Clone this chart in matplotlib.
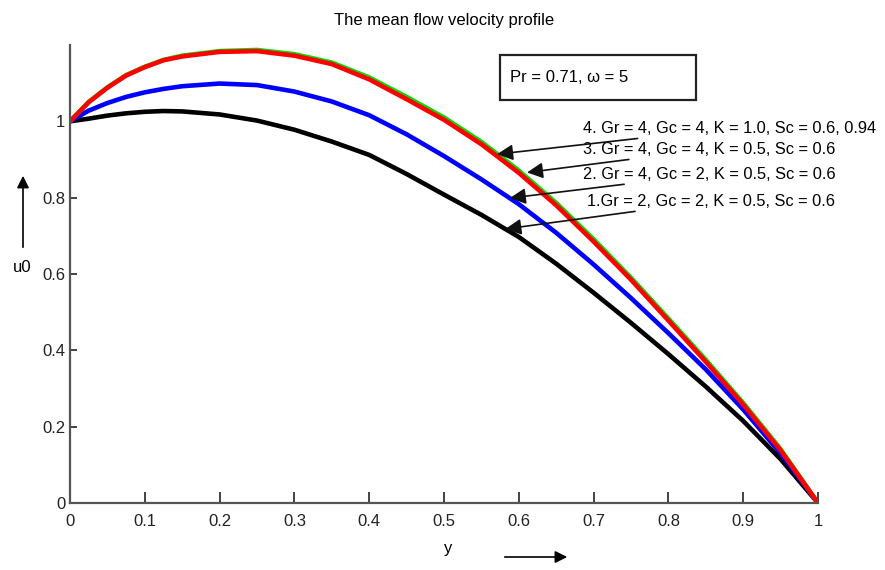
import numpy as np
import matplotlib
matplotlib.use("Agg")
from matplotlib import pyplot as plt
from matplotlib.patches import Rectangle, FancyArrowPatch

plt.rcParams["font.family"] = ["Liberation Sans", "DejaVu Sans"]

# values
y = [0.0, 0.025, 0.05, 0.075, 0.1, 0.125, 0.15, 0.2, 0.25, 0.3, 0.35, 0.4, 0.45, 0.5,
     0.55, 0.6, 0.65, 0.7, 0.75, 0.8, 0.85, 0.9, 0.95, 1.0]
u1 = [1.0, 1.007, 1.015, 1.021, 1.025, 1.027, 1.026, 1.018, 1.002, 0.978, 0.947, 0.912, 0.862, 0.808,
      0.755, 0.697, 0.627, 0.551, 0.472, 0.390, 0.305, 0.215, 0.115, 0.0]
u2 = [1.0, 1.028, 1.048, 1.064, 1.076, 1.085, 1.092, 1.099, 1.095, 1.078, 1.052, 1.016, 0.966, 0.909,
      0.848, 0.783, 0.708, 0.625, 0.537, 0.445, 0.350, 0.245, 0.130, 0.0]
u3 = [1.0, 1.050, 1.088, 1.120, 1.142, 1.160, 1.170, 1.182, 1.184, 1.172, 1.150, 1.110, 1.058, 1.004,
      0.940, 0.865, 0.780, 0.685, 0.585, 0.478, 0.370, 0.258, 0.138, 0.0]
u4 = [1.0, 1.051, 1.089, 1.121, 1.143, 1.161, 1.172, 1.184, 1.187, 1.176, 1.154, 1.115, 1.064, 1.010,
      0.946, 0.871, 0.786, 0.691, 0.590, 0.483, 0.375, 0.262, 0.141, 0.0]

labels = ["1.Gr = 2, Gc = 2, K = 0.5, Sc = 0.6",
          "2. Gr = 4, Gc = 2, K = 0.5, Sc = 0.6",
          "3. Gr = 4, Gc = 4, K = 0.5, Sc = 0.6",
          "4. Gr = 4, Gc = 4, K = 1.0, Sc = 0.6, 0.94"]

fig = plt.figure(figsize=(8.85, 5.7), dpi=100)
ax = fig.add_axes([70 / 885, 67 / 570, 748 / 885, 458 / 570])

ax.plot(y, u1, color="black", lw=3.3, solid_joinstyle="round")
ax.plot(y, u2, color="blue", lw=3.3, solid_joinstyle="round")
ax.plot(y, u4, color="#00e000", lw=3.3, solid_joinstyle="round")
ax.plot(y, u3, color="red", lw=3.3, solid_joinstyle="round")

ax.set_xlim(0, 1)
ax.set_ylim(0, 1.2)
ax.set_xticks(np.arange(0, 1.01, 0.1))
ax.set_xticklabels(["0", "0.1", "0.2", "0.3", "0.4", "0.5", "0.6", "0.7", "0.8", "0.9", "1"])
ax.set_yticks([0, 0.2, 0.4, 0.6, 0.8, 1.0])
ax.set_yticklabels(["0", "0.2", "0.4", "0.6", "0.8", "1"])
ax.tick_params(direction="in", length=5, width=1.2, labelsize=12, colors="#222222")
ax.tick_params(axis="x", length=8, pad=8)
for side in ["top", "right"]:
    ax.spines[side].set_visible(False)
for side in ["left", "bottom"]:
    ax.spines[side].set_color("#555555")
    ax.spines[side].set_linewidth(1.6)

fig.text(444 / 885, 1 - 20 / 570, "The mean flow velocity profile",
         ha="center", va="center", fontsize=12)

# parameter box
ax.add_patch(Rectangle((0.575, 1.055), 0.262, 0.12, fill=False,
                       edgecolor="#222222", lw=1.6, clip_on=False))
ax.text(0.588, 1.115, "Pr = 0.71, \u03c9 = 5", ha="left", va="center", fontsize=12)

# curve labels with arrows
tips = [(0.582, 0.718), (0.588, 0.799), (0.611, 0.866), (0.571, 0.914)]
texts = [(0.691, 0.791), (0.686, 0.862), (0.686, 0.927), (0.686, 0.982)]
for lab, tip, txt in zip(labels, tips, texts):
    ax.annotate(lab, xy=tip, xytext=txt, ha="left", va="center", fontsize=11.8,
                arrowprops=dict(arrowstyle="-|>", color="#111111", lw=1.2,
                                mutation_scale=24, shrinkA=0, shrinkB=0))

# axis labels with arrows
fig.text(22 / 885, 1 - 268 / 570, "u0", ha="center", va="center", fontsize=12)
fig.patches.append(FancyArrowPatch(
    (23 / 885, 1 - 250 / 570), (23 / 885, 1 - 173 / 570), transform=fig.transFigure,
    arrowstyle="-|>", mutation_scale=18, color="black", lw=1.2))
fig.text(448 / 885, 1 - 548 / 570, "y", ha="center", va="center", fontsize=12)
fig.patches.append(FancyArrowPatch(
    (502 / 885, 1 - 557 / 570), (570 / 885, 1 - 557 / 570), transform=fig.transFigure,
    arrowstyle="-|>", mutation_scale=18, color="black", lw=1.2))

fig.savefig("out.png", dpi=100)
